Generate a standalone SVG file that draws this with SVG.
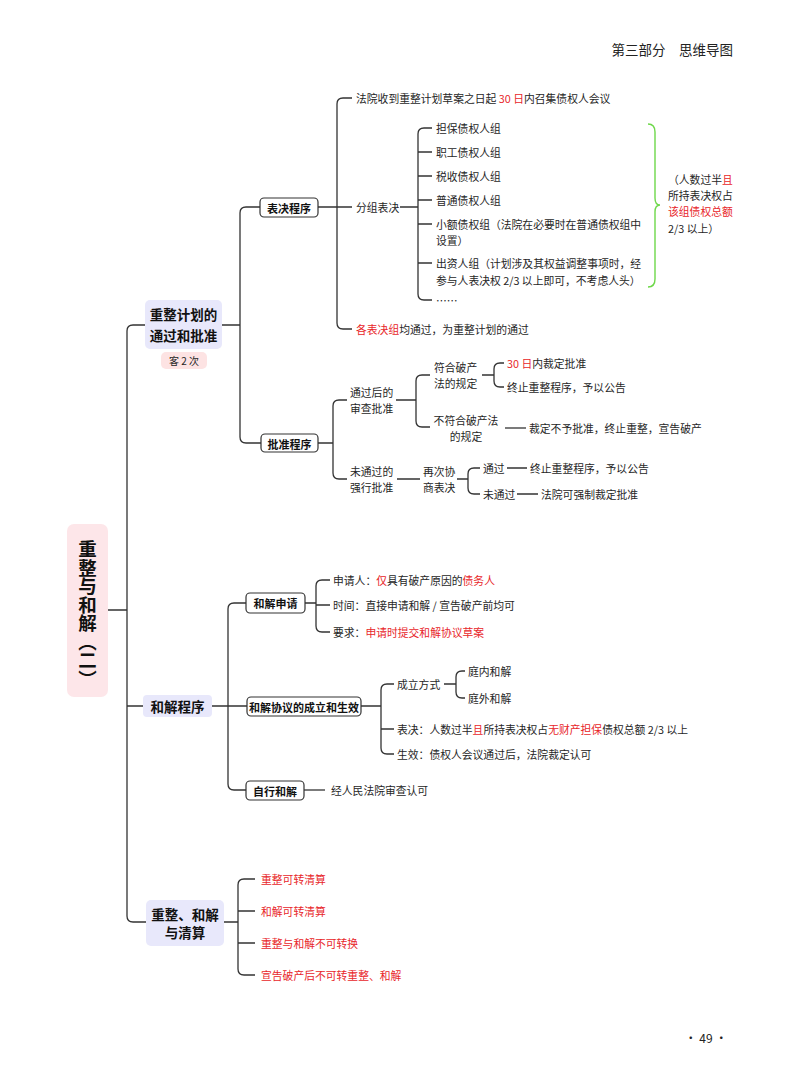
<svg xmlns="http://www.w3.org/2000/svg" width="800" height="1086" viewBox="0 0 800 1086">
<style>
text{font-family:"Noto Sans CJK SC","Liberation Sans",sans-serif;fill:#262626;dominant-baseline:central}
.t{font-size:10.8px}
.r{fill:#e8262a}
.b{font-weight:bold;font-size:11px;fill:#111}
.l1{font-weight:bold;font-size:13.5px;fill:#111}
.box{fill:#fff;stroke:#333;stroke-width:1.2}
.lav{fill:#e8e8fb}
.c path{fill:none;stroke:#333;stroke-width:1.3}
</style>
<rect width="800" height="1086" fill="#fff"/>
<text x="733" y="49" text-anchor="end" style="font-size:13.5px;fill:#222">第三部分　思维导图</text>
<text x="706" y="1037" text-anchor="middle" style="font-size:12px;fill:#222">· 49 ·</text>

<g class="c" id="connectors">
<path d="M147 325H133Q127 325 127 331V916Q127 922 133 922H146"/>
<path d="M108 610H127M127 706H143"/>
<path d="M222 325H240M260 207H246Q240 207 240 213V437Q240 443 246 443H261"/>
<path d="M318 207H337M352 98H343Q337 98 337 104V323Q337 329 343 329H352M337 207H352"/>
<path d="M400 207H418M432 128H424Q418 128 418 134V294Q418 300 424 300H432M418 152H432M418 176H432M418 200H432M418 224H432M418 263H432"/>
<path d="M318 443H333M347 400H339Q333 400 333 406V473Q333 479 339 479H347"/>
<path d="M396 400H416M430 375H422Q416 375 416 381V421Q416 427 422 427H430"/>
<path d="M482 375H494M504 363H500Q494 363 494 369V381Q494 387 500 387H504"/>
<path d="M505 428H526"/>
<path d="M397 479H420M457 479H468M480 468H474Q468 468 468 474V488Q468 494 474 494H480M507 468H527M517 494H538"/>
<path d="M212 706H228M246 603H234Q228 603 228 609V784Q228 790 234 790H246M228 706H247"/>
<path d="M305 603H316M330 580H322Q316 580 316 586V626Q316 632 322 632H330M316 605H330"/>
<path d="M361 706H381M394 684H387Q381 684 381 690V748Q381 754 387 754H394M381 729H394"/>
<path d="M444 684H456M465 671H462Q456 671 456 677V692Q456 698 462 698H465"/>
<path d="M304 790H325"/>
<path d="M224 922H238M255 879H244Q238 879 238 885V969Q238 975 244 975H255M238 911H255M238 943H255"/>
<path d="M648 124Q655 124 655 132V198Q655 205 660 205Q655 205 655 212V279Q655 287 648 287" style="stroke:#6ed84a;stroke-width:1.4"/>
</g>

<g id="n-root">
<rect x="67" y="524" width="41" height="173" rx="7" fill="#fde6e9"/>
<text x="87.5" y="614" writing-mode="vertical-rl" text-anchor="middle" style="font-size:18.5px;font-weight:bold;fill:#111;dominant-baseline:auto">重整与和解（二）</text>
</g>

<g id="n-plan">
<rect x="145" y="300" width="77" height="49" rx="5" class="lav"/>
<text x="183.5" y="314" text-anchor="middle" class="l1">重整计划的</text>
<text x="183.5" y="335" text-anchor="middle" class="l1">通过和批准</text>
<rect x="161" y="352" width="46" height="17" rx="5" fill="#fde3e3"/>
<text x="184" y="360.5" text-anchor="middle" style="font-size:10px">客 2 次</text>
</g>

<g id="n-vote">
<rect x="260" y="198" width="58" height="19" rx="4" class="box"/>
<text x="289" y="207.5" text-anchor="middle" class="b">表决程序</text>
</g>
<g id="n-vote-items">
<text x="356" y="98" class="t">法院收到重整计划草案之日起 <tspan class="r">30 日</tspan>内召集债权人会议</text>
<text x="356" y="207" class="t">分组表决</text>
<text x="356" y="329" class="t"><tspan class="r">各表决组</tspan>均通过，为重整计划的通过</text>
</g>
<g id="n-groups">
<text x="436" y="128" class="t">担保债权人组</text>
<text x="436" y="152" class="t">职工债权人组</text>
<text x="436" y="176" class="t">税收债权人组</text>
<text x="436" y="200" class="t">普通债权人组</text>
<text x="436" y="224" class="t">小额债权组（法院在必要时在普通债权组中</text>
<text x="436" y="240" class="t">设置）</text>
<text x="436" y="263" class="t">出资人组（计划涉及其权益调整事项时，经</text>
<text x="436" y="280" class="t">参与人表决权 2/3 以上即可，不考虑人头）</text>
<text x="436" y="300" class="t">……</text>
</g>
<g id="n-brace-note">
<text x="668" y="179" class="t">（人数过半<tspan class="r">且</tspan></text>
<text x="668" y="195" class="t">所持表决权占</text>
<text x="668" y="211" class="t r">该组债权总额</text>
<text x="668" y="228" class="t">2/3 以上）</text>
</g>

<g id="n-approve">
<rect x="261" y="434" width="57" height="18" rx="4" class="box"/>
<text x="289.5" y="443.5" text-anchor="middle" class="b">批准程序</text>
</g>
<g id="n-approve-items">
<text x="350" y="392" class="t">通过后的</text>
<text x="350" y="408" class="t">审查批准</text>
<text x="350" y="471" class="t">未通过的</text>
<text x="350" y="487" class="t">强行批准</text>
<text x="434" y="367" class="t">符合破产</text>
<text x="434" y="383" class="t">法的规定</text>
<text x="466" y="420" text-anchor="middle" class="t">不符合破产法</text>
<text x="466" y="436" text-anchor="middle" class="t">的规定</text>
<text x="507" y="363" class="t"><tspan class="r">30 日</tspan>内裁定批准</text>
<text x="507" y="387" class="t">终止重整程序，予以公告</text>
<text x="529" y="428" class="t">裁定不予批准，终止重整，宣告破产</text>
<text x="423" y="471" class="t">再次协</text>
<text x="423" y="487" class="t">商表决</text>
<text x="483" y="468" class="t">通过</text>
<text x="530" y="468" class="t">终止重整程序，予以公告</text>
<text x="483" y="494" class="t">未通过</text>
<text x="541" y="494" class="t">法院可强制裁定批准</text>
</g>

<g id="n-settle">
<rect x="143" y="695" width="69" height="22" rx="4" class="lav"/>
<text x="177.5" y="706" text-anchor="middle" class="l1">和解程序</text>
</g>
<g id="n-apply">
<rect x="246" y="593" width="59" height="20" rx="4" class="box"/>
<text x="275.5" y="603" text-anchor="middle" class="b">和解申请</text>
</g>
<g id="n-apply-items">
<text x="333" y="580" class="t">申请人：<tspan class="r">仅</tspan>具有破产原因的<tspan class="r">债务人</tspan></text>
<text x="333" y="605" class="t">时间：直接申请和解 / 宣告破产前均可</text>
<text x="333" y="632" class="t">要求：<tspan class="r">申请时提交和解协议草案</tspan></text>
</g>
<g id="n-agree">
<rect x="247" y="697" width="114" height="19" rx="4" class="box"/>
<text x="304" y="706.5" text-anchor="middle" class="b">和解协议的成立和生效</text>
</g>
<g id="n-agree-items">
<text x="397" y="684" class="t">成立方式</text>
<text x="468" y="671" class="t">庭内和解</text>
<text x="468" y="698" class="t">庭外和解</text>
<text x="397" y="729" class="t">表决：人数过半<tspan class="r">且</tspan>所持表决权占<tspan class="r">无财产担保</tspan>债权总额 2/3 以上</text>
<text x="397" y="754" class="t">生效：债权人会议通过后，法院裁定认可</text>
</g>
<g id="n-self">
<rect x="246" y="781" width="58" height="19" rx="4" class="box"/>
<text x="275" y="790.5" text-anchor="middle" class="b">自行和解</text>
<text x="331" y="790" class="t">经人民法院审查认可</text>
</g>

<g id="n-convert">
<rect x="146" y="900" width="78" height="46" rx="5" class="lav"/>
<text x="185" y="914" text-anchor="middle" class="l1">重整、和解</text>
<text x="185" y="932" text-anchor="middle" class="l1">与清算</text>
</g>
<g id="n-convert-items">
<text x="261" y="879" class="t r">重整可转清算</text>
<text x="261" y="911" class="t r">和解可转清算</text>
<text x="261" y="943" class="t r">重整与和解不可转换</text>
<text x="261" y="975" class="t r">宣告破产后不可转重整、和解</text>
</g>
</svg>
